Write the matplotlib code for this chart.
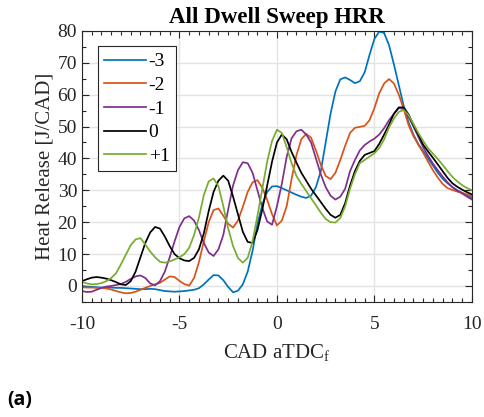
import numpy as np
import matplotlib
matplotlib.use("Agg")
import matplotlib.pyplot as plt
from matplotlib.ticker import MultipleLocator

# crank angle grid (CAD aTDC_f), step 0.25
cad = np.arange(-10, 10.001, 0.25)

labels = ['-3', '-2', '-1', '0', '+1']
colors = ['#0072BD', '#D95319', '#7E2F8E', '#000000', '#77AC30']

hrr_m3 = [0.0, -0.2, -0.3, -0.4, -0.5, -0.5, -0.5, -0.6, -0.6, -0.7, -0.8, -0.9, -1.0, -1.0, -0.9, -1.0,
          -1.3, -1.6, -1.7, -1.8, -1.7, -1.6, -1.4, -1.2, -0.7, 0.5, 2.0, 3.4, 3.3, 1.8, -0.3, -2.0,
          -1.5, 0.5, 4.5, 11.0, 19.5, 25.5, 29.5, 31.2, 31.3, 30.7, 30.0, 29.3, 28.6, 28.0, 27.6, 28.3,
          31.0, 36.0, 45.0, 54.0, 61.0, 64.8, 65.4, 64.6, 63.6, 64.2, 67.0, 72.5, 77.5, 79.8, 79.3, 75.5,
          69.5, 63.0, 56.5, 51.3, 47.5, 44.5, 42.3, 40.0, 37.8, 35.5, 33.6, 32.2, 31.0, 30.0, 29.2, 28.4,
          27.6]
hrr_m2 = [-0.4, -0.5, -0.5, -0.6, -0.6, -0.8, -1.1, -1.6, -2.0, -2.3, -2.2, -1.8, -1.2, -0.6, 0.0, 0.5,
          1.0, 2.0, 3.0, 2.8, 1.6, 0.6, 0.1, 2.5, 7.5, 14.0, 20.0, 23.8, 24.3, 22.0, 19.5, 18.3,
          20.5, 24.8, 29.5, 32.5, 33.2, 30.8, 27.0, 22.5, 19.0, 20.5, 25.0, 33.5, 41.0, 46.0, 47.7, 46.5,
          42.5, 38.0, 34.5, 33.5, 35.5, 39.5, 44.0, 48.0, 49.6, 49.9, 50.2, 52.0, 55.8, 60.5, 63.5, 64.9,
          63.5, 60.0, 55.5, 50.5, 47.0, 44.3, 41.8, 39.0, 36.3, 34.0, 32.0, 30.7, 30.1, 29.6, 29.2, 28.7,
          28.2]
hrr_m1 = [-1.6, -1.9, -1.8, -1.2, -0.6, -0.2, 0.0, 0.3, 0.6, 1.3, 2.2, 3.0, 3.3, 2.5, 0.8, 0.2,
          1.5, 4.5, 9.0, 14.0, 18.5, 21.2, 21.9, 20.5, 17.5, 13.5, 10.5, 9.4, 11.5, 16.0, 24.0, 31.5,
          36.3, 38.8, 38.5, 35.5, 30.0, 24.5, 20.2, 19.2, 25.0, 32.0, 40.5, 46.3, 48.5, 49.0, 47.5, 45.0,
          40.0, 35.0, 31.0, 28.3, 27.1, 28.0, 30.5, 36.0, 39.5, 42.5, 44.2, 45.3, 46.2, 47.5, 49.5, 52.0,
          54.0, 55.8, 55.5, 53.0, 50.0, 46.8, 43.5, 40.8, 38.4, 36.3, 34.3, 32.5, 31.0, 29.9, 29.0, 28.0,
          27.1]
hrr_0 = [1.5, 2.1, 2.6, 2.8, 2.6, 2.3, 1.8, 1.2, 0.5, 0.3, 1.5, 4.5, 9.0, 13.5, 16.8, 18.5,
         18.0, 15.5, 12.5, 10.0, 8.7, 8.0, 7.8, 8.8, 11.5, 16.5, 23.5, 29.5, 33.0, 34.6, 33.0, 28.0,
         22.5, 17.0, 13.8, 13.5, 17.5, 24.0, 31.5, 39.0, 45.0, 47.5, 46.0, 42.0, 38.7, 35.5, 33.0, 30.5,
         28.4, 26.3, 24.2, 22.3, 21.4, 22.3, 26.0, 31.5, 36.0, 39.2, 41.1, 41.7, 42.3, 44.6, 47.5, 50.6,
         54.0, 56.0, 56.0, 53.8, 50.5, 47.5, 44.3, 42.2, 40.2, 38.1, 36.0, 33.9, 32.2, 31.1, 30.2, 29.4,
         28.7]
hrr_p1 = [1.3, 0.8, 0.5, 0.6, 0.9, 1.5, 2.5, 4.0, 6.8, 9.8, 12.8, 14.6, 15.0, 13.0, 10.8, 9.0,
          7.6, 7.3, 7.7, 8.3, 9.0, 10.0, 12.0, 16.0, 21.5, 28.5, 32.8, 33.7, 31.3, 25.0, 18.0, 12.5,
          8.8, 7.3, 8.8, 14.0, 22.0, 30.5, 39.0, 45.5, 49.0, 48.0, 43.5, 38.5, 34.5, 32.0, 29.8, 27.5,
          25.3, 23.0, 21.0, 20.0, 19.9, 21.3, 25.0, 30.5, 35.0, 38.5, 39.5, 40.6, 41.6, 43.3, 46.0, 49.7,
          52.5, 54.6, 55.2, 53.6, 50.8, 48.0, 45.5, 43.2, 41.5, 39.8, 38.0, 36.0, 34.2, 32.8, 31.6, 30.7,
          30.0]

series = [hrr_m3, hrr_m2, hrr_m1, hrr_0, hrr_p1]

plt.rcParams['font.family'] = ['Liberation Serif', 'DejaVu Serif']
plt.rcParams['axes.unicode_minus'] = False

fig = plt.figure(figsize=(4.85, 4.17), dpi=100)
ax = fig.add_axes([0.169, 0.276, 0.804, 0.650])

for vals, lab, col in zip(series, labels, colors):
    ax.plot(cad, vals, color=col, lw=1.25, label=lab)

ax.set_xlim(-10, 10)
ax.set_ylim(-5, 80)
ax.xaxis.set_major_locator(MultipleLocator(5))
ax.xaxis.set_minor_locator(MultipleLocator(0.5))
ax.yaxis.set_major_locator(MultipleLocator(10))
ax.yaxis.set_minor_locator(MultipleLocator(5))
ax.tick_params(which='both', direction='in', top=True, right=True,
               labelsize=14, colors='#262626', width=0.8)
ax.tick_params(which='major', length=5)
ax.tick_params(which='minor', length=3)
ax.tick_params(axis='x', which='major', pad=10)
ax.grid(True, which='major', color='#e3e3e3', lw=1)
ax.set_axisbelow(True)
for sp in ax.spines.values():
    sp.set_color('#262626')
    sp.set_linewidth(0.8)

ax.set_title('All Dwell Sweep HRR', fontsize=16.5, fontweight='bold', pad=6)
ax.set_xlabel('CAD aTDC$_\\mathregular{f}$', fontsize=15, color='#262626', labelpad=7)
ax.set_ylabel('Heat Release [J/CAD]', fontsize=15, color='#262626', labelpad=2)

leg = ax.legend(loc='upper left', fontsize=14, frameon=True, fancybox=False,
                edgecolor='#262626', framealpha=1, handlelength=2.15,
                borderaxespad=0.8, labelspacing=0.31, handletextpad=0.15,
                borderpad=0.33)
leg.get_frame().set_linewidth(0.8)

fig.text(0.014, 0.028, '(a)', fontsize=14, fontweight='bold', family='Open Sans')

fig.savefig('out.png', dpi=100)
